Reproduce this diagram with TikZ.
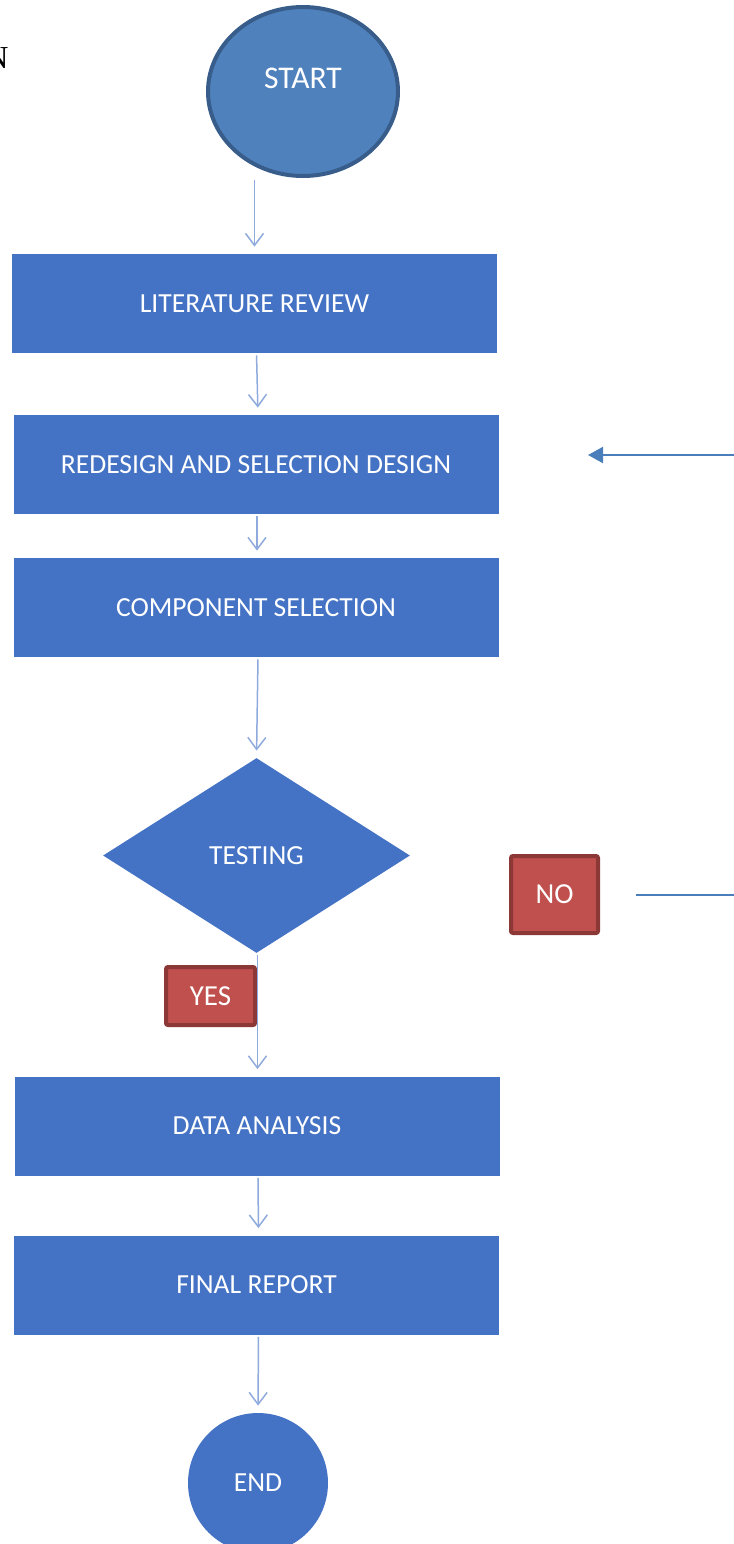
\documentclass[tikz,border=0pt]{standalone}
\usepackage{fontspec}
\setmainfont{Carlito}
\newfontfamily\serifN{Liberation Serif}
\usetikzlibrary{shapes.geometric,arrows.meta}
\definecolor{boxblue}{HTML}{4472C4}
\definecolor{startblue}{HTML}{4F81BD}
\definecolor{startedge}{HTML}{385D8A}
\definecolor{redfill}{HTML}{C0504D}
\definecolor{rededge}{HTML}{8C3836}
\definecolor{arrowblue}{HTML}{8FAADC}
\definecolor{lineblue}{HTML}{4A7EBB}
\tikzset{
  lbl/.style={font=\fontsize{13.8}{16}\selectfont, text=white},
  stepbox/.style={rectangle, fill=boxblue, minimum width=242.5pt, minimum height=49.5pt, inner sep=0pt, lbl},
  flow/.style={draw=arrowblue, line width=0.75pt, -{Straight Barb[length=6pt,width=9pt,line width=0.75pt]}, shorten <=1pt, shorten >=3.5pt},
  answer/.style={rectangle, fill=redfill, draw=rededge, line width=2pt, rounded corners=1pt, inner sep=0pt, lbl, font=\fontsize{14.5}{17}\selectfont},
}
\begin{document}
\begin{tikzpicture}[x=0.5pt,y=-0.5pt]
\useasboundingbox (0,0) rectangle (734,1544);
\node[anchor=east, font=\serifN\fontsize{16}{18}\selectfont, inner sep=0pt] (ncut) at (9,58) {N};

\node[ellipse, fill=startblue, draw=startedge, line width=2pt, minimum width=95pt, minimum height=84.5pt, inner sep=0pt] (start) at (303,91.5) {};
\node[lbl, inner sep=0pt, font=\fontsize{15.8}{18}\selectfont] (starttxt) at (303,78) {START};

\node[stepbox] (lit) at (254.5,303.5) {LITERATURE REVIEW};
\node[stepbox] (redesign) at (256,464.5) {REDESIGN AND SELECTION DESIGN};
\node[stepbox] (comp) at (256,607.5) {COMPONENT SELECTION};
\node[diamond, fill=boxblue, minimum width=153.5pt, minimum height=97.5pt, inner sep=0pt, lbl] (test) at (256.5,855.5) {TESTING};
\node[answer, minimum width=44.5pt, minimum height=29pt] (yes) at (210.5,996) {YES};
\node[answer, minimum width=43.5pt, minimum height=38.5pt] (no) at (554.5,894.5) {NO};
\node[stepbox] (data) at (257,1126) {DATA ANALYSIS};
\node[stepbox] (final) at (256.5,1285) {FINAL REPORT};
\node[circle, fill=boxblue, minimum size=70pt, inner sep=0pt, lbl] (end) at (258,1483) {END};

\draw[flow] (lit.north |- start.south) -- (lit.north);
\draw[flow] ([xshift=1pt]lit.south) -- ([xshift=1pt]redesign.north);
\draw[flow] ([xshift=0.5pt]redesign.south) -- ([xshift=0.5pt]comp.north);
\draw[flow] ([xshift=1pt]comp.south) -- (test.north);
\draw[flow] ([xshift=0.5pt]test.south) -- ([xshift=0.5pt]test.south |- data.north);
\draw[flow] ([xshift=0.5pt]data.south) -- ([xshift=1pt]final.north);
\draw[flow] ([xshift=1pt]final.south) -- (end.north);

\coordinate (retin) at (734,455);
\coordinate (rettip) at (588,455);
\draw[draw=lineblue, line width=1pt, -{Triangle[length=7.5pt,width=8pt]}] (retin) -- (rettip);
\coordinate (noout) at (636,895);
\coordinate (noedge) at (734,895);
\draw[draw=lineblue, line width=0.8pt] (noout) -- (noedge);
\end{tikzpicture}
\end{document}
